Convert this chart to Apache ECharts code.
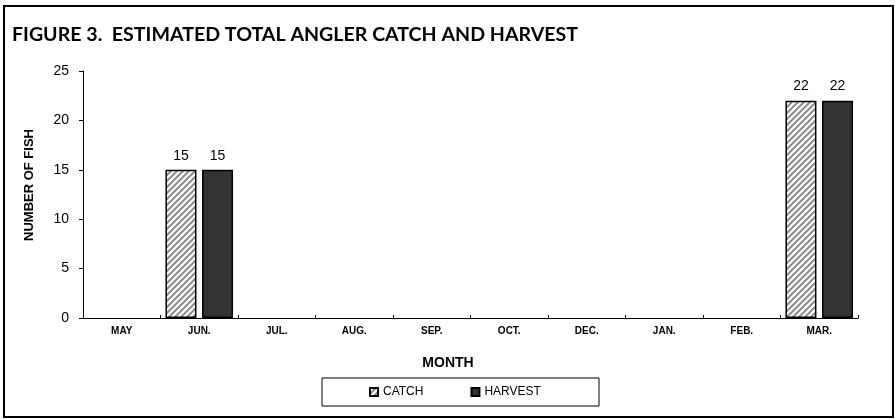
<!DOCTYPE html>
<html>
<head>
<meta charset="utf-8">
<script src="https://cdn.jsdelivr.net/npm/echarts@6/dist/echarts.min.js"></script>
<style>
  html, body { margin: 0; padding: 0; background: #fff; }
  #chart { width: 895px; height: 419px; }
</style>
</head>
<body>
<div id="chart"></div>
<script>
// Monthly angler survey totals
const months = ['MAY', 'JUN.', 'JUL.', 'AUG.', 'SEP.', 'OCT.', 'DEC.', 'JAN.', 'FEB.', 'MAR.'];
const catchValues = [null, 15, null, null, null, null, null, null, null, 22];
const harvestValues = [null, 15, null, null, null, null, null, null, null, 22];
const yTicks = { min: 0, max: 25, step: 5 };

const SANS = "'Liberation Sans', Arial, sans-serif";

// Diagonal hatch fill for the catch bars
function makeHatch() {
  const s = 6;
  const c = document.createElement('canvas');
  c.width = s; c.height = s;
  const g = c.getContext('2d');
  g.fillStyle = '#ffffff';
  g.fillRect(0, 0, s, s);
  g.strokeStyle = '#8c8c8c';
  g.lineWidth = 2;
  g.beginPath();
  g.moveTo(-1, s + 1); g.lineTo(s + 1, -1);
  g.moveTo(-s / 2 - 1, s / 2 + 1); g.lineTo(s / 2 + 1, -s / 2 - 1);
  g.moveTo(s / 2 - 1, s * 1.5 + 1); g.lineTo(s * 1.5 + 1, s / 2 - 1);
  g.stroke();
  return c;
}

const chart = echarts.init(document.getElementById('chart'), null, { renderer: 'canvas' });

const labelStyle = {
  show: true,
  position: 'top',
  distance: 7,
  color: '#000',
  fontFamily: SANS,
  fontSize: 14
};

chart.setOption({
  animation: false,
  backgroundColor: '#ffffff',
  grid: { left: 83, right: 37, top: 71, bottom: 101, containLabel: false },
  graphic: [
    {
      type: 'rect',
      shape: { x: 4, y: 6, width: 889, height: 411 },
      style: { fill: 'none', stroke: '#000', lineWidth: 2 },
      silent: true, z: 0
    },
    {
      type: 'text',
      left: 12, top: 25,
      style: {
        text: 'FIGURE 3.  ESTIMATED TOTAL ANGLER CATCH AND HARVEST',
        fontFamily: "Lato, 'Open Sans', sans-serif",
        fontWeight: 'bold',
        fontSize: 19.6,
        fill: '#000'
      }
    },
    {
      type: 'text',
      x: 29, y: 185,
      rotation: Math.PI / 2,
      style: {
        text: 'NUMBER OF FISH',
        fontFamily: SANS,
        fontWeight: 'bold',
        fontSize: 13,
        fill: '#000',
        align: 'center',
        verticalAlign: 'middle'
      }
    },
    {
      type: 'text',
      x: 448, y: 363,
      style: {
        text: 'MONTH',
        fontFamily: SANS,
        fontWeight: 'bold',
        fontSize: 14,
        fill: '#000',
        align: 'center',
        verticalAlign: 'middle'
      }
    },
    {
      type: 'rect',
      shape: { x: 322, y: 378, width: 277, height: 28 },
      style: { fill: '#fff', stroke: '#000', lineWidth: 1 },
      silent: true, z: 0
    }
  ],
  legend: {
    left: 369, top: 386,
    padding: 0,
    itemGap: 47,
    itemWidth: 8, itemHeight: 8,
    icon: 'rect',
    textStyle: {
      fontFamily: SANS,
      fontSize: 12,
      color: '#000'
    },
    z: 10
  },
  xAxis: {
    type: 'category',
    data: months,
    axisLine: { lineStyle: { color: '#000', width: 1 } },
    axisTick: { show: true, inside: true, length: 3, lineStyle: { color: '#000' } },
    axisLabel: {
      color: '#000',
      fontFamily: SANS,
      fontWeight: 'bold',
      fontSize: 10,
      margin: 8
    },
    splitLine: { show: false }
  },
  yAxis: {
    type: 'value',
    min: yTicks.min, max: yTicks.max, interval: yTicks.step,
    axisLine: { show: true, lineStyle: { color: '#000', width: 1 } },
    axisTick: { show: true, length: 4, lineStyle: { color: '#000' } },
    axisLabel: {
      color: '#000',
      fontFamily: SANS,
      fontSize: 14,
      margin: 14
    },
    splitLine: { show: false }
  },
  series: [
    {
      name: 'CATCH',
      type: 'bar',
      data: catchValues,
      barWidth: 31,
      barGap: '18%',
      itemStyle: {
        color: { image: makeHatch(), repeat: 'repeat' },
        borderColor: '#000',
        borderWidth: 1.5
      },
      label: labelStyle
    },
    {
      name: 'HARVEST',
      type: 'bar',
      data: harvestValues,
      barWidth: 31,
      barGap: '18%',
      itemStyle: {
        color: '#333333',
        borderColor: '#000',
        borderWidth: 1.5
      },
      label: labelStyle
    }
  ]
});
</script>
</body>
</html>
